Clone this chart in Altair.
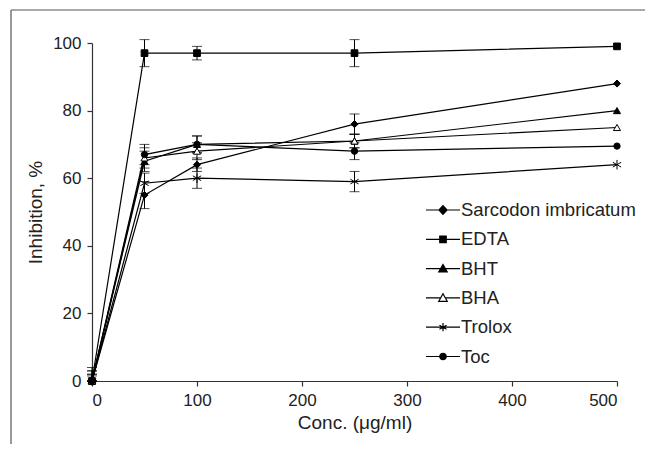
import altair as alt
import pandas as pd

conc = [0, 50, 100, 250, 500]
series = ["Sarcodon imbricatum", "EDTA", "BHT", "BHA", "Trolox", "Toc"]

sarcodon = [0, 55, 64, 76, 88]
edta = [0, 97, 97, 97, 99]
bht = [0, 65, 70, 71, 80]
bha = [0, 66, 68, 71, 75]
trolox = [0, 58.5, 60, 59, 64]
toc = [0, 67, 70, 68, 69.5]

sarcodon_err = [2, 4, 2, 3, 0]
edta_err = [3, 4, 2, 4, 0]
bht_err = [2, 3, 2.5, 2, 0]
bha_err = [4, 3, 2.5, 2, 0]
trolox_err = [3, 3, 3, 3, 0]
toc_err = [1.5, 3, 2.5, 2.5, 0]

values = [sarcodon, edta, bht, bha, trolox, toc]
errors = [sarcodon_err, edta_err, bht_err, bha_err, trolox_err, toc_err]

rows = []
for s, vals, errs in zip(series, values, errors):
    for c, v, e in zip(conc, vals, errs):
        rows.append(dict(series=s, conc=c, val=v, err=e,
                         lo=max(0, v - e), hi=v + e))
df = pd.DataFrame(rows)

ASTER = "M0,-1V1M-0.87,-0.5L0.87,0.5M-0.87,0.5L0.87,-0.5"
point_shapes = ["diamond", "square", "triangle-up", "triangle-up", ASTER, "circle"]
point_fills = ["black", "black", "black", "white", "black", "black"]
point_sizes = [50, 45, 50, 50, 90, 40]

LINE = "M-1,0H1"
leg_shapes = [
    LINE + "M0,-0.26L0.24,0L0,0.26L-0.24,0Z",
    LINE + "M-0.19,-0.19H0.19V0.19H-0.19Z",
    LINE + "M0,-0.24L0.25,0.2H-0.25Z",
    "M-1,0H-0.14M0.14,0H1M0,-0.24L0.25,0.2H-0.25Z",
    LINE + "M0,-0.24V0.24M-0.21,-0.12L0.21,0.12M-0.21,0.12L0.21,-0.12",
    LINE + "M-0.19,0A0.19,0.19,0,1,0,0.19,0A0.19,0.19,0,1,0,-0.19,0Z",
]

FONT = "Liberation Sans"

xenc = alt.X("conc:Q", scale=alt.Scale(domain=[0, 500], nice=False),
             axis=alt.Axis(values=[0, 100, 200, 300, 400, 500], title="Conc. (μg/ml)",
                           titlePadding=5))
yenc = alt.Y("val:Q", scale=alt.Scale(domain=[0, 100], nice=False),
             axis=alt.Axis(values=[0, 20, 40, 60, 80, 100], title="Inhibition, %",
                           titlePadding=7))

base = alt.Chart(df)

lines = base.mark_line(color="black", strokeWidth=1.2).encode(
    x=xenc, y=yenc, detail="series:N", order="conc:Q")

err_df = df[df.err > 0]
err_rule = alt.Chart(err_df).mark_rule(color="black", strokeWidth=1).encode(
    x="conc:Q", y="lo:Q", y2="hi:Q")
err_top = alt.Chart(err_df).mark_tick(color="black", thickness=1, size=10,
                                      orient="horizontal").encode(x="conc:Q", y="hi:Q")
err_bot = alt.Chart(err_df).mark_tick(color="black", thickness=1, size=10,
                                      orient="horizontal").encode(x="conc:Q", y="lo:Q")

point_layers = []
for s, shp, fc, sz in zip(series, point_shapes, point_fills, point_sizes):
    point_layers.append(
        base.transform_filter(alt.datum.series == s).mark_point(
            shape=shp, fill=fc, stroke="black", strokeWidth=1, size=sz,
            opacity=1, filled=True).encode(x="conc:Q", y="val:Q")
    )

leg_props = dict(title=None, orient="none", legendX=333, legendY=149,
                 symbolSize=1156, symbolStrokeWidth=1.2, labelFontSize=18.5,
                 labelFont=FONT, labelColor="#222", labelOffset=0, rowPadding=1.3,
                 labelLimit=0)
legend_layer = base.transform_filter("datum.conc < 0").mark_point(
    strokeWidth=1.2, opacity=1).encode(
    x="conc:Q", y="val:Q",
    shape=alt.Shape("series:N", scale=alt.Scale(domain=series, range=leg_shapes),
                    legend=alt.Legend(**leg_props)),
    fill=alt.Fill("series:N", scale=alt.Scale(domain=series, range=point_fills),
                  legend=alt.Legend(**leg_props)),
    stroke=alt.Stroke("series:N", scale=alt.Scale(domain=series, range=["black"] * 6),
                      legend=alt.Legend(**leg_props)),
)

frame_df = pd.DataFrame({"a": [0]})
frame_left = alt.Chart(frame_df).mark_rule(color="#555", strokeWidth=1.2).encode(
    x=alt.value(-81), y=alt.value(-33), y2=alt.value(420))
frame_top = alt.Chart(frame_df).mark_rule(color="#555", strokeWidth=1.2).encode(
    x=alt.value(-81), x2=alt.value(600), y=alt.value(-33))

chart = alt.layer(
    frame_left, frame_top, lines, err_rule, err_top, err_bot, *point_layers, legend_layer
).properties(
    width=525, height=338,
    autosize=alt.AutoSizeParams(type="none"),
    padding={"left": 84, "top": 35, "right": 28, "bottom": 63},
).configure_view(stroke=None).configure_axis(
    grid=False, domainColor="#333", tickColor="#333", tickSize=5,
    labelFont=FONT, labelFontSize=17, labelColor="#222", labelPadding=6,
    titleFont=FONT, titleFontSize=19, titleFontWeight="normal", titleColor="#222",
    domainWidth=1.2, tickWidth=1.2,
)

chart.save("out.html", embed_options={"renderer": "svg", "actions": False})
